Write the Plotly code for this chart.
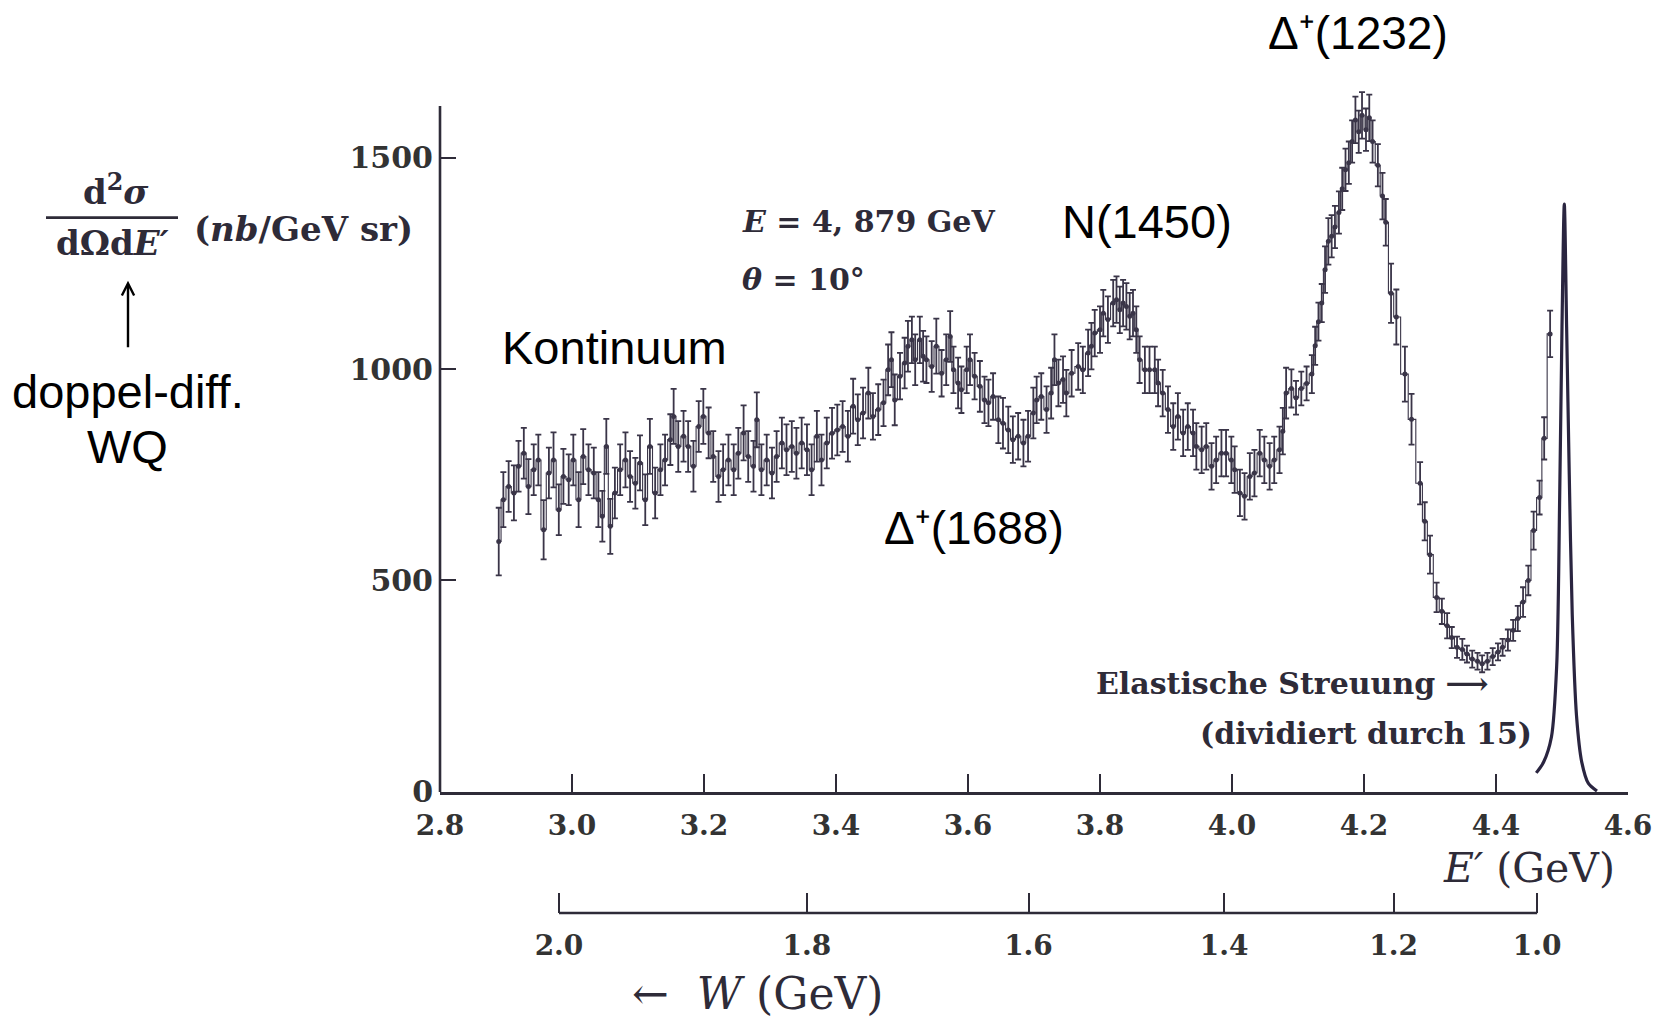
import plotly.graph_objects as go
import math

# ---------------- data ----------------
# continuum, 2.89 - 3.39 GeV
e_cont = [2.889, 2.896, 2.904, 2.912, 2.919, 2.927, 2.934, 2.942, 2.949, 2.957,
          2.965, 2.972, 2.980, 2.987, 2.995, 3.002, 3.010, 3.017, 3.025, 3.033,
          3.040, 3.046, 3.052, 3.058, 3.065, 3.073, 3.081, 3.088, 3.096, 3.103,
          3.111, 3.118, 3.126, 3.134, 3.141, 3.149, 3.154, 3.161, 3.169, 3.176,
          3.184, 3.192, 3.199, 3.207, 3.214, 3.222, 3.229, 3.237, 3.245, 3.252,
          3.260, 3.267, 3.275, 3.280, 3.287, 3.295, 3.303, 3.310, 3.318, 3.325,
          3.333, 3.340, 3.348, 3.356, 3.363, 3.371, 3.378, 3.386]
v_cont = [592, 691, 722, 707, 770, 801, 722, 762, 785, 620,
          754, 785, 667, 746, 738, 785, 691, 793, 762, 754,
          691, 652, 817, 628, 707, 762, 785, 746, 730, 778,
          691, 817, 707, 762, 785, 833, 888, 817, 841, 817,
          770, 864, 888, 849, 793, 746, 762, 785, 762, 801,
          849, 793, 770, 880, 762, 785, 754, 793, 825, 809,
          817, 801, 825, 809, 762, 841, 785, 825]
err_cont = [80, 65, 60, 65, 60, 60, 65, 60, 60, 70,
            60, 65, 60, 65, 60, 60, 65, 65, 60, 60,
            65, 60, 65, 65, 60, 60, 65, 60, 60, 65,
            60, 65, 60, 60, 60, 60, 65, 60, 60, 60,
            60, 60, 65, 60, 60, 60, 60, 60, 60, 60,
            65, 60, 60, 65, 60, 60, 60, 60, 60, 60,
            60, 60, 60, 60, 60, 60, 60, 60]

# resonance region N(1450) / Delta(1688), 3.39 - 4.07 GeV
e_res = [3.394, 3.402, 3.410, 3.418, 3.426, 3.433,
         3.441, 3.449, 3.456, 3.464, 3.472, 3.479, 3.484, 3.489, 3.497, 3.504,
         3.509, 3.515, 3.520, 3.527, 3.532, 3.537, 3.545, 3.552, 3.560, 3.567,
         3.573, 3.578, 3.585, 3.590, 3.598, 3.603, 3.610, 3.618, 3.625, 3.631,
         3.638, 3.646, 3.653, 3.661, 3.668, 3.676, 3.684, 3.691, 3.699, 3.704,
         3.711, 3.719, 3.726, 3.731, 3.737, 3.744, 3.749, 3.757, 3.767, 3.774,
         3.782, 3.787, 3.792, 3.800, 3.805, 3.812, 3.820, 3.825, 3.830, 3.835,
         3.840, 3.845, 3.850, 3.855, 3.860, 3.868, 3.875, 3.883, 3.888, 3.895,
         3.903, 3.911, 3.918, 3.926, 3.933, 3.941, 3.946, 3.954, 3.961, 3.969,
         3.976, 3.984, 3.991, 3.999, 4.004, 4.012, 4.019, 4.027, 4.034, 4.042,
         4.049, 4.057, 4.064, 4.072]
v_res = [848, 856, 864, 841, 912, 880,
         896, 943, 888, 904, 920, 998, 1022, 927, 983, 1014,
         1054, 1069, 1022, 1069, 1030, 1022, 1006, 1054, 990, 1022,
         1077, 998, 967, 951, 998, 1022, 983, 959, 927, 920,
         935, 880, 872, 856, 833, 841, 825, 841, 896, 927,
         935, 904, 943, 1022, 967, 975, 943, 990, 1006, 998,
         1038, 1054, 1085, 1093, 1132, 1117, 1156, 1164, 1140, 1156,
         1148, 1125, 1132, 1093, 1022, 998, 998, 998, 967, 943,
         904, 864, 888, 849, 864, 849, 817, 809, 817, 770,
         785, 801, 801, 785, 762, 707, 699, 746, 754, 801,
         785, 770, 785, 809]
err_res = [60, 60, 60, 60, 65, 60,
           60, 60, 55, 60, 55, 60, 65, 60, 55, 60,
           60, 55, 60, 55, 60, 55, 60, 65, 55, 60,
           60, 55, 60, 55, 55, 60, 55, 60, 55, 55,
           55, 55, 60, 55, 55, 55, 55, 60, 60, 55,
           55, 55, 60, 60, 55, 55, 55, 55, 55, 55,
           55, 55, 55, 55, 55, 55, 55, 55, 55, 55,
           55, 55, 55, 55, 55, 55, 55, 55, 55, 55,
           55, 55, 55, 55, 55, 55, 55, 55, 55, 55,
           55, 55, 55, 55, 55, 55, 55, 55, 55, 55,
           55, 55, 55, 55]

# Delta(1232) peak and the dip before the elastic line, 4.08 - 4.48 GeV
e_delta = [4.077, 4.082, 4.090, 4.097, 4.105, 4.113, 4.121, 4.126, 4.131, 4.136,
           4.141, 4.146, 4.151, 4.156, 4.162, 4.167, 4.172, 4.177, 4.182, 4.187,
           4.192, 4.197, 4.203, 4.208, 4.213, 4.221, 4.228, 4.233, 4.241, 4.249,
           4.262, 4.272, 4.285, 4.292, 4.300, 4.310, 4.318, 4.326, 4.333, 4.341,
           4.349, 4.356, 4.364, 4.372, 4.379, 4.387, 4.395, 4.403, 4.410, 4.418,
           4.426, 4.433, 4.441, 4.449, 4.457, 4.466, 4.473, 4.482]
v_delta = [853, 943, 954, 932, 954, 966, 988, 1055, 1112, 1156,
           1235, 1302, 1314, 1336, 1370, 1426, 1471, 1488, 1538, 1589,
           1561, 1600, 1566, 1594, 1538, 1482, 1409, 1347, 1179, 1123,
           988, 881, 730, 640, 561, 460, 427, 393, 365, 342,
           337, 326, 314, 309, 303, 309, 320, 331, 342, 359,
           382, 410, 449, 500, 618, 696, 836, 1083]
err_delta = [55, 60, 45, 40, 40, 40, 45, 45, 45, 45,
             55, 55, 50, 50, 50, 50, 50, 50, 50, 55,
             50, 55, 50, 55, 50, 50, 55, 55, 70, 65,
             65, 60, 50, 45, 45, 35, 30, 30, 25, 25,
             25, 20, 20, 20, 20, 20, 20, 20, 20, 25,
             25, 30, 35, 35, 45, 40, 50, 55]

# elastic peak (divided by 15)
e_elastic = [4.461, 4.472, 4.484, 4.492, 4.4965, 4.500, 4.5035, 4.507,
             4.511, 4.5155, 4.522, 4.530, 4.540, 4.553]
v_elastic = [45, 70, 130, 300, 700, 1100, 1390, 1100,
             750, 420, 180, 70, 20, 2]

# axes
x_ticks = [2.8, 3.0, 3.2, 3.4, 3.6, 3.8, 4.0, 4.2, 4.4, 4.6]
y_ticks = [0, 500, 1000, 1500]
y_axis_top = 1622
w_ticks = [2.0, 1.8, 1.6, 1.4, 1.2, 1.0]

# kinematics for the W scale
beam_E = 4.879
theta_deg = 10.0
m_p = 0.938


def eprime_of_w(w):
    s2 = math.sin(math.radians(theta_deg) / 2) ** 2
    return (m_p ** 2 + 2 * m_p * beam_E - w ** 2) / (2 * m_p + 4 * beam_E * s2)


w_tick_pos = [eprime_of_w(w) for w in w_ticks]

# ---------------- layout geometry (page pixels) ----------------
OFF = 8                      # default body margin of the html page
FIG_W, FIG_H = 1670 - OFF, 1020 - OFF
L, R = 440, 1628             # page x of E'=2.8 and E'=4.6
Y0 = 792                     # page y of the zero line
PX_PER_NB = 0.4227
Y_MAX = 1700
T = Y0 - Y_MAX * PX_PER_NB   # page y of the top of the plot area
B = 1004                     # page y of the bottom of the plot area


def px(x):
    return (x - L) / (R - L)


def py(y):
    return (B - y) / (B - T)


ink = "#2e2b38"
data_col = "#3a3548"
serif = "DejaVu Serif"
sans = "Liberation Sans, Arial, sans-serif"

e_all = e_cont + e_res + e_delta
v_all = v_cont + v_res + v_delta
err_all = err_cont + err_res + err_delta

fig = go.Figure()

# step line joining the points
fig.add_trace(go.Scatter(
    x=e_all, y=v_all, mode="lines",
    line=dict(color=data_col, width=1.1, shape="hvh"),
    showlegend=False, hoverinfo="skip"))

# measured points with error bars
fig.add_trace(go.Scatter(
    x=e_all, y=v_all, mode="markers",
    marker=dict(color=data_col, size=5),
    error_y=dict(type="data", array=err_all, visible=True,
                 color=data_col, thickness=1.8, width=3),
    showlegend=False))

# elastic peak
fig.add_trace(go.Scatter(
    x=e_elastic, y=v_elastic, mode="lines",
    line=dict(color="#2a2540", width=3.2, shape="spline", smoothing=0.8),
    showlegend=False, hoverinfo="skip"))

# invisible trace to carry the W axis
fig.add_trace(go.Scatter(x=[w_tick_pos[0]], y=[None], xaxis="x2", yaxis="y",
                         mode="markers", showlegend=False, hoverinfo="skip"))

y0_dom = py(Y0)
w_pos = py(913)

tick_font = dict(family=serif, size=28, color="#333333")

fig.update_layout(
    width=FIG_W, height=FIG_H,
    margin=dict(l=L - OFF, r=FIG_W - (R - OFF), t=T - OFF, b=FIG_H - (B - OFF),
                autoexpand=False),
    paper_bgcolor="white", plot_bgcolor="white",
    showlegend=False,
    xaxis=dict(range=[2.8, 4.6], domain=[0, 1], anchor="y",
               showline=True, linecolor=ink, linewidth=2.6,
               ticks="inside", ticklen=18, tickwidth=1.6, tickcolor=ink,
               tickvals=x_ticks, ticktext=[f"<b>{t:.1f}</b>" for t in x_ticks],
               tickfont=tick_font, ticklabelstandoff=7,
               showgrid=False, zeroline=False),
    xaxis2=dict(range=[2.8, 4.6], overlaying="x", anchor="free",
                position=w_pos, side="bottom",
                showline=False, ticks="inside", ticklen=20, tickwidth=1.6,
                tickcolor=ink, tickvals=w_tick_pos,
                ticktext=[f"<b>{w:.1f}</b>" for w in w_ticks],
                tickfont=tick_font, ticklabelstandoff=13,
                showgrid=False, zeroline=False),
    yaxis=dict(range=[0, Y_MAX], domain=[y0_dom, 1], anchor="x",
               showline=False,
               ticks="inside", ticklen=16, tickwidth=1.6, tickcolor=ink,
               tickvals=y_ticks, ticktext=[f"<b>{t}</b>" for t in y_ticks],
               tickfont=dict(family=serif, size=30, color="#333333"),
               ticklabelstandoff=6,
               showgrid=False, zeroline=False),
)

# y axis line (ends at the top of the printed axis)
fig.add_shape(type="line", xref="paper", yref="y",
              x0=0, x1=0, y0=0, y1=y_axis_top,
              line=dict(color=ink, width=2.6))

# W axis line (from W=2.0 to W=1.0)
fig.add_shape(type="line", xref="x", yref="paper",
              x0=w_tick_pos[0], x1=w_tick_pos[-1], y0=w_pos, y1=w_pos,
              line=dict(color=ink, width=2.6))

# y-label fraction bar
fig.add_shape(type="line", xref="paper", yref="paper",
              x0=px(46), x1=px(178), y0=py(218), y1=py(218),
              line=dict(color=ink, width=2.6))

ann = []


def txt(x, y, s, size, family, color="black", xanchor="center", yanchor="middle"):
    ann.append(dict(x=px(x), y=py(y), xref="paper", yref="paper", text=s,
                    showarrow=False, xanchor=xanchor, yanchor=yanchor,
                    font=dict(family=family, size=size, color=color)))


# sans-serif (added) labels
txt(1358, 33, "Δ⁺(1232)", 46, sans)
txt(1147, 222, "N(1450)", 47, sans)
txt(974, 528, "Δ⁺(1688)", 46, sans)
txt(614, 348, "Kontinuum", 47, sans)
txt(128, 392, "doppel-diff.", 47, sans)
txt(128, 447, "WQ", 47, sans)

# serif (book) labels
txt(740, 222, "<b><i>E</i> = 4, 879 GeV</b>", 30, serif, ink, xanchor="left")
txt(740, 280, "<b><i>θ</i> = 10°</b>", 30, serif, ink, xanchor="left")
txt(1491, 684, "<b>Elastische Streuung ⟶</b>", 30, serif, ink, xanchor="right")
txt(1534, 734, "<b>(dividiert durch 15)</b>", 30, serif, ink, xanchor="right")
txt(116, 190, "<b>d<sup>2</sup><i>σ</i></b>", 34, serif, ink)
txt(112, 243, "<b>dΩd<i>E′</i></b>", 34, serif, ink)
txt(303, 229, "<b>(<i>nb</i>/GeV sr)</b>", 34, serif, ink)
txt(1529, 868, "<i>E′</i> (GeV)", 41, serif, ink)
txt(757, 994, "←  <i>W</i> (GeV)", 44, serif, ink)

# arrow below the y label
ann.append(dict(x=px(128), y=py(281), xref="paper", yref="paper", text="",
                showarrow=True, ax=0, ay=68, arrowhead=5, arrowsize=1.0,
                arrowwidth=2.4, arrowcolor="black"))

fig.update_layout(annotations=ann)

fig.write_html("out.html")
